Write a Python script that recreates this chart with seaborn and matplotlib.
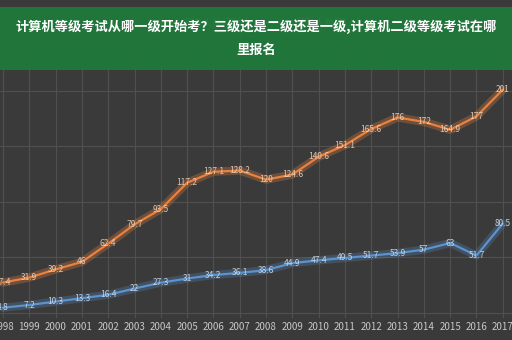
import matplotlib
matplotlib.use("Agg")
import matplotlib.pyplot as plt
import seaborn as sns
import pandas as pd
from matplotlib.patches import Rectangle

years = list(range(1998, 2018))
registered = [27.4, 31.9, 39.2, 46, 62.4, 79.7, 93.5, 117.2, 127.1, 128.2,
              120, 124.6, 140.6, 151.1, 165.6, 176, 172, 164.9, 177, 201]
admitted = [4.8, 7.2, 10.3, 13.3, 16.4, 22, 27.3, 31, 34.2, 36.1,
            38.6, 44.9, 47.4, 49.5, 51.7, 53.9, 57, 63, 51.7, 80.5]
series_names = ["报名人数(万人)", "录取人数(万人)"]
title_text = "计算机等级考试从哪一级开始考？三级还是二级还是一级,计算机二级等级考试在哪\n里报名"

sns.set_theme(style="dark")
plt.rcParams['font.family'] = ['Noto Sans CJK SC', 'DejaVu Sans']

bg = "#3a3a3a"
fig = plt.figure(figsize=(5.12, 3.4), dpi=100, facecolor=bg)
ax = fig.add_axes([0, 1 - 318 / 340, 1, (318 - 7) / 340])
ax.set_facecolor(bg)

df = pd.DataFrame({"year": years, "reg": registered, "adm": admitted})

orange = "#e8823e"
blue = "#5b93cf"

# glow
ax.plot(df["year"], df["reg"], color=orange, lw=6, alpha=0.3, solid_capstyle="round")
ax.plot(df["year"], df["adm"], color=blue, lw=6, alpha=0.25, solid_capstyle="round")
sns.lineplot(data=df, x="year", y="reg", ax=ax, color=orange, lw=1.6, label=series_names[0])
sns.lineplot(data=df, x="year", y="adm", ax=ax, color=blue, lw=1.6, label=series_names[1])

for x, y in zip(years, registered):
    ax.text(x, y, f"{y:g}", ha="center", va="center", fontsize=6, color="#f0dcc8", alpha=0.85)
for x, y in zip(years, admitted):
    ax.text(x, y, f"{y:g}", ha="center", va="center", fontsize=6, color="#d8e4f0", alpha=0.85)

ax.set_xlim(1997.886, 2017.35)
ax.set_ylim(-4.5, 275.4)
ax.set_xticks(years)
ax.set_xticklabels([str(y) for y in years])
ax.set_yticks([0, 50, 100, 150, 200, 250])
ax.tick_params(axis="x", colors="#c8c8c8", labelsize=7, length=0, pad=3)
ax.tick_params(axis="y", left=False, labelleft=False)
ax.grid(True, color="#505050", lw=0.8)
ax.set_xlabel("")
ax.set_ylabel("")
for s in ax.spines.values():
    s.set_visible(False)

leg = ax.legend(loc="upper center", bbox_to_anchor=(0.5, 0.995), ncol=2, frameon=False,
                fontsize=7, handlelength=2.5, columnspacing=1.5)
for t in leg.get_texts():
    t.set_color("#aaaaaa")

# green banner
fig.patches.append(Rectangle((0, 1 - 70 / 340), 1, (70 - 7) / 340, transform=fig.transFigure,
                             facecolor="#1f7a3a", alpha=0.93, edgecolor="none", zorder=10))
fig.text(0.5, 1 - 38 / 340, title_text, ha="center", va="center", color="white",
         fontsize=9.5, fontweight="bold", linespacing=1.8, zorder=11)

fig.savefig("out.png", dpi=100, facecolor=bg)
